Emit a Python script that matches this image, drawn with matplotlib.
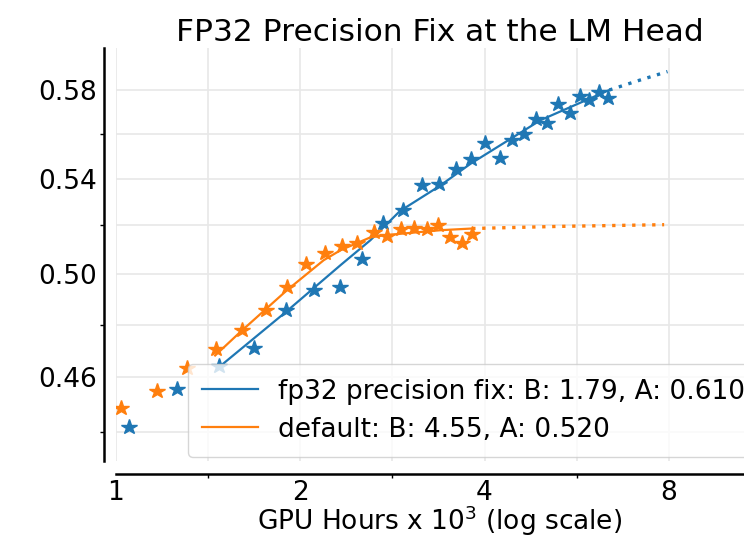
import matplotlib
matplotlib.use('Agg')
import matplotlib.pyplot as plt
from matplotlib.ticker import FixedLocator, NullFormatter, FixedFormatter

# ---- data ----
blue_x = [1.051, 1.258, 1.474, 1.682, 1.896, 2.103, 2.318, 2.524, 2.731, 2.945,
          3.165, 3.374, 3.596, 3.794, 4.000, 4.238, 4.443, 4.643, 4.862, 5.057,
          5.280, 5.520, 5.727, 5.935, 6.162, 6.354]
blue_y = [0.4421, 0.4556, 0.4642, 0.4712, 0.4856, 0.4937, 0.4948, 0.5059, 0.5210, 0.5267,
          0.5372, 0.5376, 0.5440, 0.5485, 0.5558, 0.5491, 0.5571, 0.5598, 0.5664, 0.5646,
          0.5735, 0.5692, 0.5772, 0.5754, 0.5792, 0.5762]

orange_x = [1.019, 1.168, 1.308, 1.458, 1.604, 1.758, 1.902, 2.046, 2.193, 2.340,
            2.477, 2.636, 2.773, 2.922, 3.073, 3.226, 3.358, 3.512, 3.675, 3.818]
orange_y = [0.4487, 0.4548, 0.4634, 0.4705, 0.4778, 0.4856, 0.4948, 0.5039, 0.5086, 0.5113,
            0.5125, 0.5173, 0.5155, 0.5187, 0.5191, 0.5187, 0.5201, 0.5152, 0.5125, 0.5163]

# fitted curves (solid = fit range, dotted = extrapolation)
blue_fit_x = [1.480, 1.896, 2.327, 2.603, 2.908, 3.374, 3.794, 4.940, 6.394]
blue_fit_y = [0.4642, 0.4850, 0.5036, 0.5138, 0.5260, 0.5367, 0.5465, 0.5661, 0.5800]
blue_ext_x = [6.394, 7.110, 7.960]
blue_ext_y = [0.5800, 0.5843, 0.5887]

orange_fit_x = [1.452, 1.595, 1.902, 2.184, 2.327, 2.603, 2.773, 3.393, 3.818]
orange_fit_y = [0.4682, 0.4771, 0.4935, 0.5056, 0.5097, 0.5150, 0.5160, 0.5180, 0.5187]
orange_ext_x = [3.818, 5.320, 7.860]
orange_ext_y = [0.5187, 0.5196, 0.5203]

blue_label = "fp32 precision fix: B: 1.79, A: 0.610"
orange_label = "default: B: 4.55, A: 0.520"

x_major = [1, 2, 4, 8]
x_major_labels = ["1", "2", "4", "8"]
x_minor = [2 ** 0.5, 2 ** 1.5, 2 ** 2.5, 2 ** 3.5]
y_major = [0.46, 0.50, 0.54, 0.58]
y_major_labels = ["0.46", "0.50", "0.54", "0.58"]
y_minor = [0.44, 0.48, 0.52, 0.56]

BLUE = "#1f77b4"
ORANGE = "#ff7f0e"
FS = 19

fig = plt.figure(figsize=(7.44, 5.41), dpi=100)
ax = fig.add_axes([116 / 744, 80 / 541, 647 / 744, 413 / 541])
ax.set_xscale('log', base=2)
ax.set_yscale('log')

ax.plot(blue_x, blue_y, linestyle='none', marker='*', markersize=11.5, color=BLUE, zorder=3)
ax.plot(orange_x, orange_y, linestyle='none', marker='*', markersize=11.5, color=ORANGE, zorder=3)
ax.plot(blue_fit_x, blue_fit_y, color=BLUE, lw=1.6, label=blue_label, zorder=2)
ax.plot(orange_fit_x, orange_fit_y, color=ORANGE, lw=1.6, label=orange_label, zorder=2)
ax.plot(blue_ext_x, blue_ext_y, color=BLUE, lw=2.4, linestyle=(0, (1, 2)), zorder=2)
ax.plot(orange_ext_x, orange_ext_y, color=ORANGE, lw=2.4, linestyle=(0, (1, 2)), zorder=2)

ax.set_xlim(1, 11.4)
ax.set_ylim(0.43, 0.60)

ax.xaxis.set_major_locator(FixedLocator(x_major))
ax.xaxis.set_major_formatter(FixedFormatter(x_major_labels))
ax.xaxis.set_minor_locator(FixedLocator(x_minor))
ax.xaxis.set_minor_formatter(NullFormatter())
ax.yaxis.set_major_locator(FixedLocator(y_major))
ax.yaxis.set_major_formatter(FixedFormatter(y_major_labels))
ax.yaxis.set_minor_locator(FixedLocator(y_minor))
ax.yaxis.set_minor_formatter(NullFormatter())

ax.tick_params(which='major', length=0, labelsize=FS, pad=4.5)
ax.tick_params(which='minor', length=3, width=1, color='black')

ax.grid(True, which='both', color='#e8e8e8', linewidth=1.2)
ax.set_axisbelow(True)

for s in ['top', 'right']:
    ax.spines[s].set_visible(False)
for s in ['left', 'bottom']:
    ax.spines[s].set_position(('outward', 9))
    ax.spines[s].set_linewidth(1.8)
    ax.spines[s].set_color('black')

ax.set_title("FP32 Precision Fix at the LM Head", fontsize=22.5, pad=5)
ax.set_xlabel(r"GPU Hours x 10$^3$ (log scale)", fontsize=FS, labelpad=-1.5)

ax.legend(loc='lower right', fontsize=FS, framealpha=0.8, borderaxespad=0.15,
          borderpad=0.55, labelspacing=0.45, handlelength=2.1, handletextpad=0.75)

fig.savefig("out.png", dpi=100)
